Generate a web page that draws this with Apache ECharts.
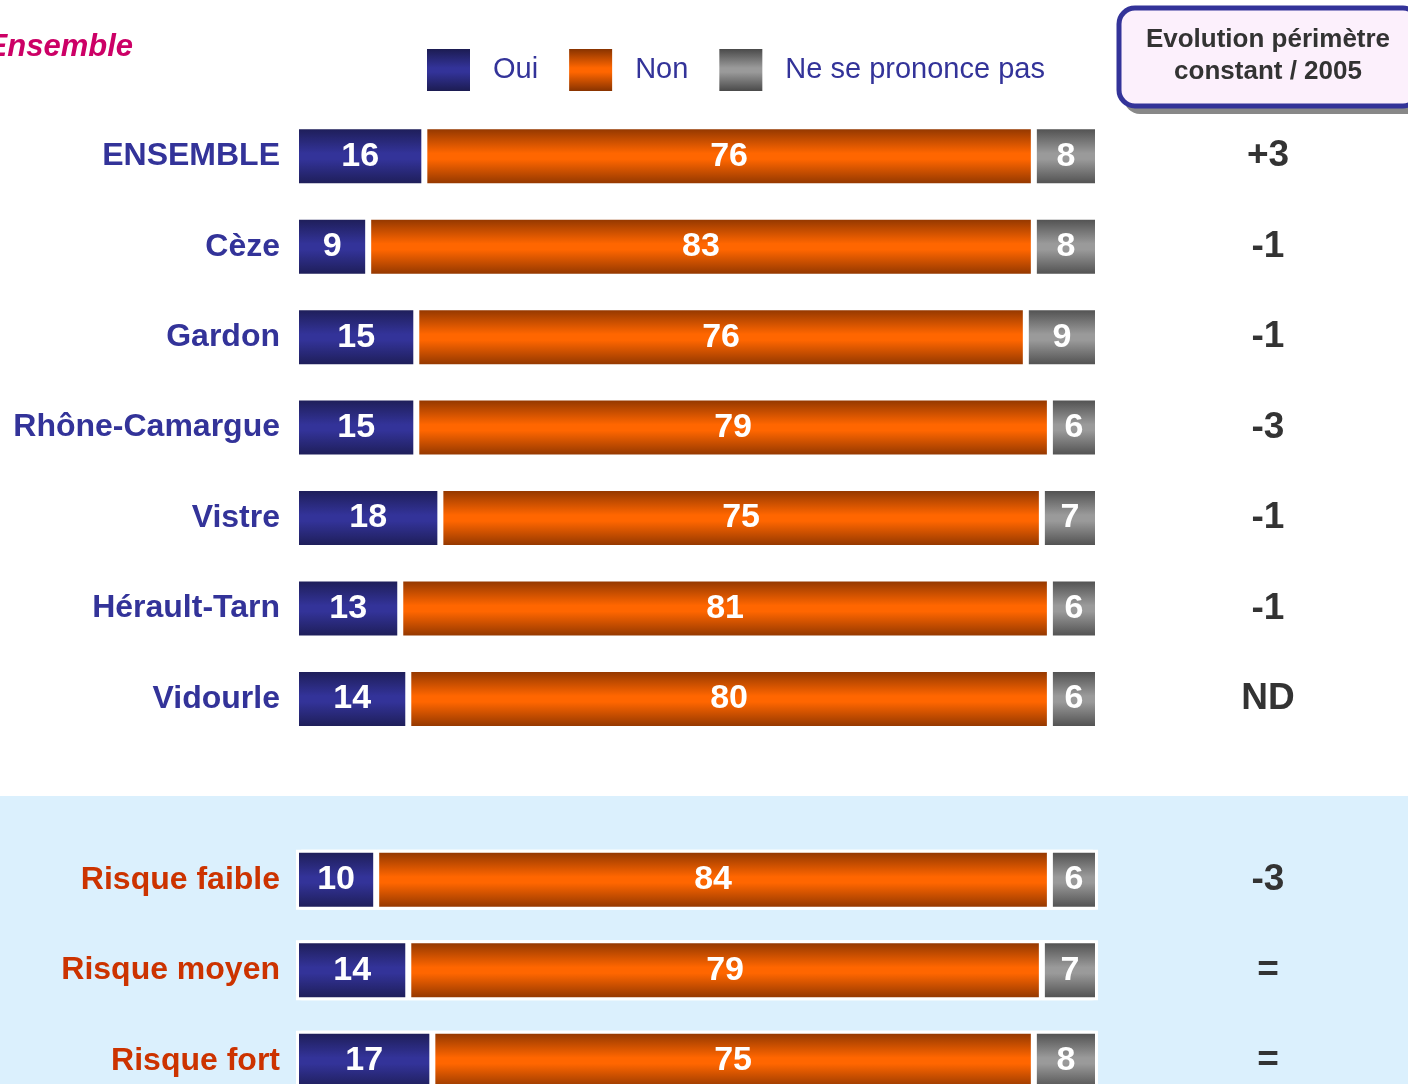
<!DOCTYPE html>
<html>
<head>
<meta charset="utf-8">
<script src="https://cdn.jsdelivr.net/npm/echarts@6/dist/echarts.min.js"></script>
<style>
  html, body { margin: 0; padding: 0; background: #fff; }
  #chart { width: 1408px; height: 1084px; }
</style>
</head>
<body>
<div id="chart"></div>
<script>
const categories = ['ENSEMBLE', 'Cèze', 'Gardon', 'Rhône-Camargue', 'Vistre', 'Hérault-Tarn', 'Vidourle', '', 'Risque faible', 'Risque moyen', 'Risque fort']
const bandRows = ['Risque faible', 'Risque moyen', 'Risque fort']
const oui = [16, 9, 15, 15, 18, 13, 14, null, 10, 14, 17]
const non = [76, 83, 76, 79, 75, 81, 80, null, 84, 79, 75]
const nsp = [8, 8, 9, 6, 7, 6, 6, null, 6, 7, 8]
const evolution = ['+3', '-1', '-1', '-3', '-1', '-1', 'ND', '', '-3', '=', '=']

const FONT = "'Liberation Sans', Arial, sans-serif"

function vGrad (edge, mid) {
  return new echarts.graphic.LinearGradient(0, 0, 0, 1, [
    { offset: 0, color: edge },
    { offset: 0.45, color: mid },
    { offset: 0.55, color: mid },
    { offset: 1, color: edge }
  ])
}

// white frame behind the rows of the blue band
const frame = categories.map((c, i) =>
  bandRows.indexOf(c) >= 0 ? oui[i] + non[i] + nsp[i] : null)

const chart = echarts.init(document.getElementById('chart'))

const segLabel = {
  show: true,
  position: 'inside',
  color: '#fff',
  fontWeight: 'bold',
  fontSize: 34,
  fontFamily: FONT
}

function segment (name, values, edge, mid) {
  return {
    name: name,
    type: 'bar',
    stack: 'total',
    barWidth: 60,
    z: 3,
    data: values,
    itemStyle: { color: vGrad(edge, mid), borderColor: '#fff', borderWidth: 3 },
    label: segLabel
  }
}

const option = {
  animation: false,
  graphic: [
    {
      type: 'rect',
      z: -10,
      shape: { x: 0, y: 796, width: 1408, height: 300 },
      style: { fill: '#dbf0fd' }
    },
    {
      type: 'text',
      x: 133,
      y: 47,
      style: {
        text: 'Ensemble',
        align: 'right',
        verticalAlign: 'middle',
        fill: '#cc0066',
        font: 'italic bold 31px ' + FONT
      }
    },
    {
      type: 'rect',
      shape: { x: 1124, y: 14, width: 300, height: 100, r: 16 },
      style: { fill: '#888' }
    },
    {
      type: 'rect',
      shape: { x: 1119, y: 8, width: 300, height: 98, r: 16 },
      style: { fill: '#fcf0fc', stroke: '#333399', lineWidth: 5 }
    },
    {
      type: 'text',
      x: 1268,
      y: 40,
      style: {
        text: 'Evolution périmètre',
        align: 'center',
        verticalAlign: 'middle',
        fill: '#333',
        font: 'bold 26px ' + FONT
      }
    },
    {
      type: 'text',
      x: 1268,
      y: 72,
      style: {
        text: 'constant / 2005',
        align: 'center',
        verticalAlign: 'middle',
        fill: '#333',
        font: 'bold 26px ' + FONT
      }
    }
  ],
  legend: {
    left: 427,
    top: 49,
    padding: 0,
    itemWidth: 43,
    itemHeight: 42,
    itemGap: 31,
    icon: 'rect',
    itemStyle: { borderWidth: 0 },
    textStyle: { color: '#333399', fontSize: 29, fontFamily: FONT, padding: [0, 0, 0, 18] },
    data: ['Oui', 'Non', 'Ne se prononce pas']
  },
  grid: { left: 296, right: 310, top: 111, height: 995, outerBoundsMode: 'none', containLabel: false },
  xAxis: { type: 'value', min: 0, max: 100, show: false },
  yAxis: [
    {
      type: 'category',
      inverse: true,
      data: categories.map(c => ({
        value: c,
        textStyle: { color: bandRows.indexOf(c) >= 0 ? '#cc3300' : '#333399' }
      })),
      axisLine: { show: false },
      axisTick: { show: false },
      axisLabel: { margin: 16, fontSize: 32, fontWeight: 'bold', fontFamily: FONT }
    },
    {
      type: 'category',
      inverse: true,
      position: 'right',
      data: evolution,
      axisLine: { show: false },
      axisTick: { show: false },
      axisLabel: { margin: 170, align: 'center', color: '#333', fontSize: 37, fontWeight: 'bold', fontFamily: FONT }
    },
    {
      type: 'category',
      inverse: true,
      show: false,
      data: categories
    }
  ],
  series: [
    segment('Oui', oui, '#1c1c52', '#333399'),
    segment('Non', non, '#883300', '#ff6600'),
    segment('Ne se prononce pas', nsp, '#4a4a4a', '#9a9a9a'),
    {
      type: 'bar',
      yAxisIndex: 2,
      barWidth: 60,
      z: 1,
      silent: true,
      data: frame,
      itemStyle: { color: '#fff', borderColor: '#fff', borderWidth: 5, borderRadius: 3 }
    }
  ]
}

chart.setOption(option)
</script>
</body>
</html>
